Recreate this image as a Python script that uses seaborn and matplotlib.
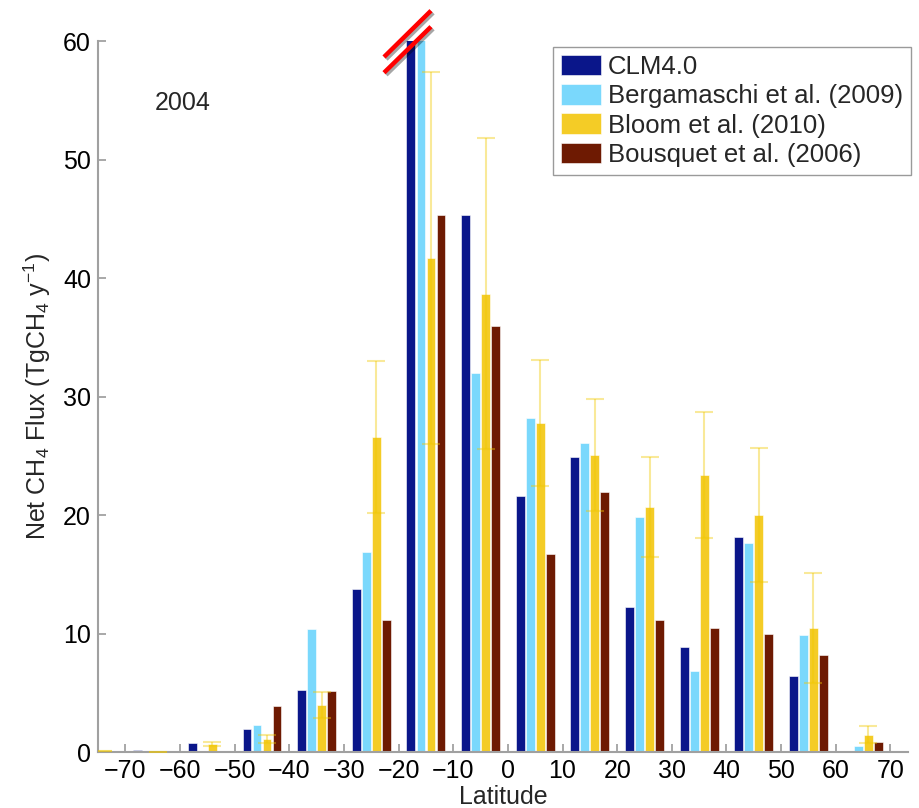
import numpy as np
import pandas as pd
import matplotlib
matplotlib.use("Agg")
import matplotlib.pyplot as plt
import matplotlib.patheffects as pe
from matplotlib.lines import Line2D
import seaborn as sns

# ── Data ────────────────────────────────────────────────
lat_centers = [-75, -65, -55, -45, -35, -25, -15, -5, 5, 15, 25, 35, 45, 55, 65, 75]
tick_labels = [-70, -60, -50, -40, -30, -20, -10, 0, 10, 20, 30, 40, 50, 60, 70]

sources = ["CLM4.0", "Bergamaschi et al. (2009)", "Bloom et al. (2010)", "Bousquet et al. (2006)"]

clm = [0, 0.2, 0.8, 1.95, 5.3, 13.75, 68.0, 45.3, 21.6, 24.9, 12.3, 8.9, 18.2, 6.4, 0, 0]
bergamaschi = [0, 0.15, 0.15, 2.3, 10.4, 16.9, 66.0, 32.0, 28.2, 26.1, 19.9, 6.9, 17.65, 9.9, 0.55, 0.05]
bloom = [0.1, 0.05, 0.7, 1.1, 4.0, 26.6, 41.7, 38.7, 27.8, 25.1, 20.7, 23.4, 20.0, 10.5, 1.5, 0.05]
bloom_err = [0, 0, 0.2, 0.35, 1.1, 6.4, 15.7, 13.1, 5.3, 4.7, 4.2, 5.3, 5.65, 4.65, 0.75, 0]
bousquet = [0.05, 0, 0.05, 3.9, 5.17, 11.2, 45.3, 36.0, 16.7, 22.0, 11.2, 10.5, 10.0, 8.2, 0.85, 0]

colors = ["#0a168a", "#7ad8fc", "#f4cc26", "#6e1a02"]

# ── Long-form table for seaborn ─────────────────────────
df = pd.DataFrame({
    "lat": lat_centers * 4,
    "source": [s for s in sources for _ in lat_centers],
    "flux": clm + bergamaschi + bloom + bousquet,
})

# ── Style ───────────────────────────────────────────────
sns.set_style("white")
plt.rcParams["font.family"] = ["Liberation Sans", "DejaVu Sans"]
plt.rcParams["mathtext.default"] = "regular"

fig = plt.figure(figsize=(9.2, 8.08), dpi=100)
ax = fig.add_axes([0.1065, 0.0689, 0.8804, 0.88])

sns.barplot(data=df, x="lat", y="flux", hue="source", order=lat_centers,
            hue_order=sources, palette=colors, saturation=1, width=0.732, gap=0.12,
            errorbar=None, edgecolor="white", linewidth=0.4, ax=ax)

# Bloom error bars, centred on the drawn yellow bars
bloom_bars = ax.containers[2]
xs = [p.get_x() + p.get_width() / 2 for p in bloom_bars]
ax.errorbar(xs, bloom, yerr=bloom_err, fmt="none", ecolor="#f0c800", alpha=0.4,
            elinewidth=1.5, capsize=6.5, capthick=1.5, zorder=3)

# ── Axes ────────────────────────────────────────────────
ax.set_xlim(0, 14.82)
ax.set_ylim(0, 60)
ax.set_xticks(np.arange(len(tick_labels)) + 0.5)
ax.set_xticklabels([str(t).replace("-", "\u2212") for t in tick_labels])
ax.set_yticks(range(0, 61, 10))
ax.tick_params(direction="in", length=6, width=1.2, color="#9a9a9a",
               labelsize=18, labelcolor="black", pad=5, bottom=True, left=True)
for side in ["top", "right"]:
    ax.spines[side].set_visible(False)
for side in ["left", "bottom"]:
    ax.spines[side].set_color("#a0a0a0")
    ax.spines[side].set_linewidth(1.5)

ax.set_xlabel("Latitude", fontsize=18, labelpad=1)
ax.set_ylabel("Net CH$_4$ Flux (TgCH$_4$ y$^{-1}$)", fontsize=18, labelpad=7)

ax.text(0.070, 0.913, "2004", transform=ax.transAxes, fontsize=18,
        ha="left", va="center")

ax.legend(loc="upper right", bbox_to_anchor=(911 / 920, 1 - 47 / 808),
          bbox_transform=fig.transFigure, fontsize=18.5, frameon=True,
          fancybox=False, edgecolor="#9a9a9a", framealpha=1,
          handlelength=1.56, handleheight=0.86, handletextpad=0.27,
          labelspacing=0.2, borderpad=0.3, borderaxespad=0, title=None)

# ── Axis break marks ────────────────────────────────────
for y0, y1 in [(57, 10.7), (72.7, 26.7)]:
    fig.add_artist(Line2D([384 / 920, 431 / 920], [1 - y0 / 808, 1 - y1 / 808],
                          color="#ff0000", lw=3.2, solid_capstyle="butt",
                          path_effects=[pe.SimpleLineShadow(offset=(1.5, -1.5), alpha=0.35),
                                        pe.Normal()]))

fig.savefig("out.png", dpi=100)
